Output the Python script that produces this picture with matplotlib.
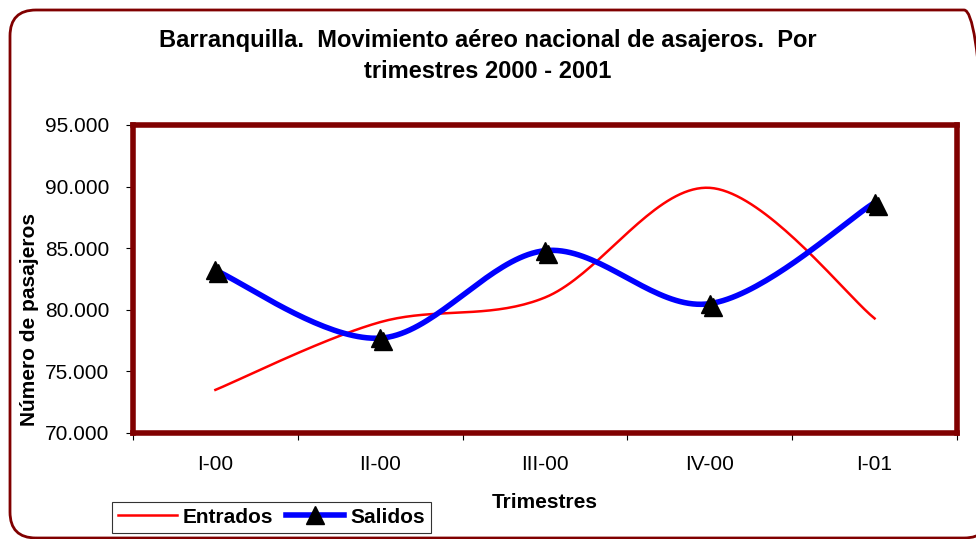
import numpy as np
import matplotlib
matplotlib.use('Agg')
import matplotlib.pyplot as plt
from matplotlib.patches import FancyBboxPatch
from matplotlib.ticker import FuncFormatter
import matplotlib.transforms as mtransforms

plt.rcParams['font.family'] = ['Liberation Sans', 'DejaVu Sans']

trimestres = ['I-00', 'II-00', 'III-00', 'IV-00', 'I-01']
entrados = [73500, 79000, 81000, 89900, 79300]
salidos = [83200, 77700, 84800, 80500, 88700]


def suavizar(x, y, n=40):
    # curva suave tipo Excel (Catmull-Rom / Bezier)
    x = np.asarray(x, float)
    y = np.asarray(y, float)
    px = np.concatenate([[x[0]], x, [x[-1]]])
    py = np.concatenate([[y[0]], y, [y[-1]]])
    xs, ys = [], []
    t = np.linspace(0, 1, n)
    for i in range(1, len(px) - 2):
        p0 = np.array([px[i], py[i]])
        p3 = np.array([px[i + 1], py[i + 1]])
        c1 = p0 + (np.array([px[i + 1], py[i + 1]]) - np.array([px[i - 1], py[i - 1]])) / 6
        c2 = p3 - (np.array([px[i + 2], py[i + 2]]) - np.array([px[i], py[i]])) / 6
        b = ((1 - t) ** 3)[:, None] * p0 + (3 * (1 - t) ** 2 * t)[:, None] * c1 \
            + (3 * (1 - t) * t ** 2)[:, None] * c2 + (t ** 3)[:, None] * p3
        xs.extend(b[:, 0])
        ys.extend(b[:, 1])
    return np.array(xs), np.array(ys)


fig = plt.figure(figsize=(9.76, 5.39), dpi=100)
fig.patch.set_facecolor('white')

# marco exterior redondeado (en pixeles), cortado a la derecha
borde = FancyBboxPatch((10, 1), 980, 528,
                       boxstyle='round,pad=0,rounding_size=26',
                       transform=None, fill=False,
                       edgecolor='#800000', linewidth=2)
fig.patches.append(borde)

ax = fig.add_axes([133 / 976, 1 - 433 / 539, (957 - 133) / 976, (433 - 125) / 539])

x = np.arange(len(trimestres)) + 0.5
ex, ey = suavizar(x, entrados)
sx, sy = suavizar(x, salidos)

ax.plot(ex, ey, color='#FF0000', linewidth=1.8, label='Entrados', zorder=3)
ax.plot(sx, sy, color='#0000FF', linewidth=4, zorder=4)

sombra = ax.transData + mtransforms.ScaledTranslation(3 / 100, -3 / 100, fig.dpi_scale_trans)
ax.plot(x, salidos, linestyle='none', marker='^', markersize=13, color='black',
        transform=sombra, zorder=5)
ax.plot(x, salidos, linestyle='none', marker='^', markersize=13, color='black', zorder=5)
ax.plot([], [], color='#0000FF', linewidth=4, marker='^', markersize=13,
        markerfacecolor='black', markeredgecolor='black', label='Salidos')

ax.set_xlim(0, len(trimestres))
ax.set_ylim(70000, 95000)
ax.set_xticks(np.arange(len(trimestres) + 1))
ax.set_xticklabels([])
ax.set_xticks(x, minor=True)
ax.set_xticklabels(trimestres, minor=True, fontsize=15)
ax.tick_params(axis='x', which='minor', length=0, pad=16)
ax.tick_params(axis='x', which='major', length=5, direction='out', color='black')
ax.set_yticks(np.arange(70000, 95001, 5000))
ax.yaxis.set_major_formatter(FuncFormatter(lambda v, p: f'{int(v):,}'.replace(',', '.')))
ax.tick_params(axis='y', labelsize=15, length=5, pad=12, color='black')

for s in ax.spines.values():
    s.set_color('#800000')
    s.set_linewidth(4)

ax.set_xlabel('Trimestres', fontsize=15, fontweight='bold')
ax.xaxis.set_label_coords(0.5, -0.195)
ax.set_ylabel('Número de pasajeros', fontsize=15, fontweight='bold')
ax.yaxis.set_label_coords(-0.114, 0.367)

fig.text(0.5, 1 - 56 / 539, 'Barranquilla.  Movimiento aéreo nacional de asajeros.  Por\ntrimestres 2000 - 2001',
         ha='center', va='center', fontsize=17, fontweight='bold', linespacing=1.4)

leg = fig.legend(loc='lower left', bbox_to_anchor=(112 / 976, 1 - 533 / 539), ncol=2,
                 fontsize=15, frameon=True, fancybox=False, edgecolor='black',
                 handlelength=2.8, handletextpad=0.3, columnspacing=0.6,
                 borderpad=0.3, borderaxespad=0)
for t in leg.get_texts():
    t.set_fontweight('bold')
leg.get_frame().set_linewidth(0.8)

fig.savefig('out.png', dpi=100)
